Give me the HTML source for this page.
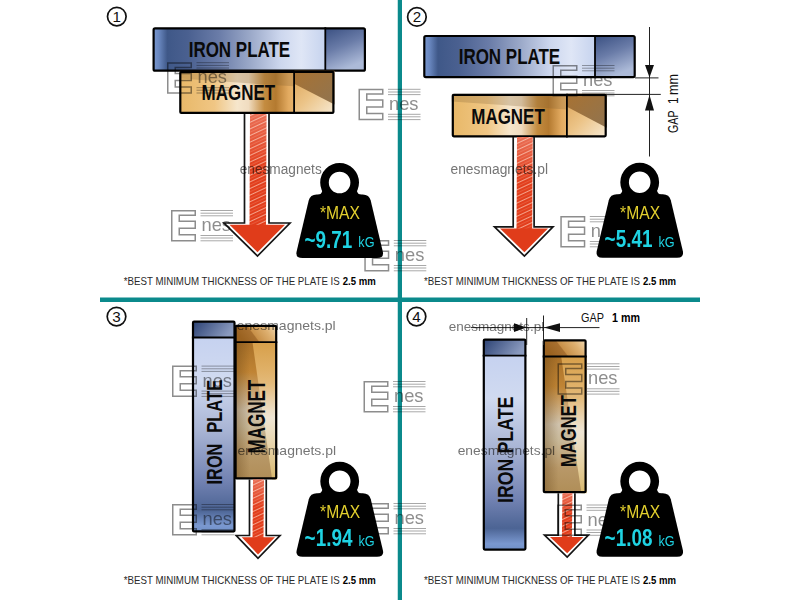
<!DOCTYPE html><html><head><meta charset="utf-8"><style>html,body{margin:0;padding:0;background:#fff;overflow:hidden;}svg{display:block;font-family:"Liberation Sans",sans-serif;}</style></head><body><svg width="800" height="600" viewBox="0 0 800 600" font-family="Liberation Sans, sans-serif">
<defs>
 <linearGradient id="hfade" x1="0" y1="0" x2="0" y2="1">
  <stop offset="0" stop-color="#fff" stop-opacity="0.25"/>
  <stop offset="1" stop-color="#fff" stop-opacity="0"/>
 </linearGradient>
 <pattern id="hatch" patternUnits="userSpaceOnUse" width="6" height="6" patternTransform="rotate(-25)">
  <rect width="6" height="6" fill="#e23e1c"/>
  <rect y="0" width="6" height="1.0" fill="#f4a088"/>
  <rect y="3.2" width="6" height="0.5" fill="#ec7458"/>
 </pattern>
 <linearGradient id="ipH" x1="0" y1="0" x2="1" y2="0">
  <stop offset="0" stop-color="#7a98d0"/>
  <stop offset="0.03" stop-color="#6a88c0"/>
  <stop offset="0.08" stop-color="#3f5888"/>
  <stop offset="0.2" stop-color="#4a6090"/>
  <stop offset="0.38" stop-color="#6a7ca8"/>
  <stop offset="0.56" stop-color="#9aa8c8"/>
  <stop offset="0.74" stop-color="#cdd7ee"/>
  <stop offset="0.86" stop-color="#dfe6f6"/>
  <stop offset="1" stop-color="#c6d3ee"/>
 </linearGradient>
 <linearGradient id="ipE" x1="0" y1="0" x2="0.4" y2="1">
  <stop offset="0" stop-color="#3a5082"/>
  <stop offset="0.5" stop-color="#6a7ca8"/>
  <stop offset="1" stop-color="#acbad8"/>
 </linearGradient>
 <linearGradient id="mgH" x1="0" y1="0" x2="1" y2="0">
  <stop offset="0" stop-color="#e8b868"/>
  <stop offset="0.3" stop-color="#f0c684"/>
  <stop offset="0.5" stop-color="#f6e6cc"/>
  <stop offset="0.6" stop-color="#f0dcc0"/>
  <stop offset="0.74" stop-color="#c48c40"/>
  <stop offset="0.84" stop-color="#b47a30"/>
  <stop offset="0.95" stop-color="#e2aa60"/>
  <stop offset="1" stop-color="#e8b46c"/>
 </linearGradient>
 <linearGradient id="mgE" x1="0" y1="0" x2="1" y2="1">
  <stop offset="0" stop-color="#dca458"/>
  <stop offset="0.5" stop-color="#ecc488"/>
  <stop offset="1" stop-color="#f6e8d0"/>
 </linearGradient>
 <linearGradient id="mgE2" x1="0" y1="0" x2="1" y2="1">
  <stop offset="0" stop-color="#a87232"/>
  <stop offset="1" stop-color="#907450"/>
 </linearGradient>
 <linearGradient id="ipV" x1="0" y1="0" x2="0" y2="1">
  <stop offset="0" stop-color="#c6d2f0"/>
  <stop offset="0.22" stop-color="#d0daf0"/>
  <stop offset="0.48" stop-color="#a8b4d4"/>
  <stop offset="0.74" stop-color="#7282b2"/>
  <stop offset="0.89" stop-color="#4c6494"/>
  <stop offset="0.97" stop-color="#7a98d0"/>
  <stop offset="1" stop-color="#7090c8"/>
 </linearGradient>
 <linearGradient id="ipVc" x1="0" y1="0" x2="1" y2="0.3">
  <stop offset="0" stop-color="#2c4274"/>
  <stop offset="1" stop-color="#8a9abe"/>
 </linearGradient>
 <linearGradient id="mgV" x1="0" y1="0" x2="0" y2="1">
  <stop offset="0" stop-color="#a87028"/>
  <stop offset="0.22" stop-color="#c08434"/>
  <stop offset="0.5" stop-color="#cfc2ac"/>
  <stop offset="0.62" stop-color="#c8b898"/>
  <stop offset="0.82" stop-color="#b89868"/>
  <stop offset="1" stop-color="#b08e58"/>
 </linearGradient>
 <linearGradient id="mgVl" x1="0" y1="0" x2="0" y2="1">
  <stop offset="0" stop-color="#e0a850"/>
  <stop offset="0.3" stop-color="#e8c080"/>
  <stop offset="0.55" stop-color="#f4ecdc"/>
  <stop offset="0.8" stop-color="#ecd8a8"/>
  <stop offset="1" stop-color="#e0c070"/>
 </linearGradient>
 <linearGradient id="mgVs" x1="0" y1="0" x2="1" y2="0">
  <stop offset="0" stop-color="#5a3a10" stop-opacity="0.35"/>
  <stop offset="0.35" stop-color="#5a3a10" stop-opacity="0"/>
  <stop offset="1" stop-color="#5a3a10" stop-opacity="0"/>
 </linearGradient>
 <linearGradient id="mgVc" x1="0" y1="0.3" x2="1" y2="0">
  <stop offset="0" stop-color="#9a6220"/>
  <stop offset="0.33" stop-color="#a87030"/>
  <stop offset="0.36" stop-color="#c89048"/>
  <stop offset="0.7" stop-color="#deb070"/>
  <stop offset="1" stop-color="#f0d8b0"/>
 </linearGradient>
</defs>
<rect width="800" height="600" fill="#fff"/><rect x="397.75" y="0" width="4.25" height="600" fill="#0b8a8c"/><rect x="100" y="297.5" width="600" height="4.5" fill="#0b8a8c"/><circle cx="116.8" cy="16.6" r="9.3" fill="none" stroke="#111" stroke-width="1.7"/><text x="116.8" y="21.6" font-size="15.2" text-anchor="middle" fill="#111">1</text><rect x="153.6" y="28.3" width="171.70000000000002" height="42.39999999999999" fill="url(#ipH)"/><rect x="325.3" y="28.3" width="39.59999999999999" height="42.39999999999999" fill="url(#ipE)"/><rect x="153.6" y="28.3" width="211.3" height="42.39999999999999" rx="1.5" fill="none" stroke="#000" stroke-width="2.2"/><line x1="325.3" y1="27.2" x2="325.3" y2="71.8" stroke="#000" stroke-width="1.8"/><text x="188.7" y="57" font-size="21.5" font-weight="bold" textLength="101.5" lengthAdjust="spacingAndGlyphs" fill="#0a0a0a">IRON PLATE</text><rect x="180.29999999999998" y="71.89999999999999" width="113.80000000000004" height="41.0" fill="url(#mgH)"/><path d="M179.2,70.8 L294.1,70.8 L294.1,86.352 L179.2,78.576 Z" fill="#7a5a30" opacity="0.25"/><rect x="294.1" y="71.89999999999999" width="39.299999999999976" height="41.0" fill="url(#mgE)"/><path d="M294.1,70.8 L334.5,70.8 L334.5,104.49600000000001 L294.1,83.75999999999999 Z" fill="url(#mgE2)"/><rect x="180.29999999999998" y="71.89999999999999" width="153.10000000000002" height="41.0" rx="1" fill="none" stroke="#000" stroke-width="2.2"/><line x1="294.1" y1="70.8" x2="294.1" y2="114" stroke="#000" stroke-width="1.8"/><text x="201.6" y="100" font-size="21.5" font-weight="bold" textLength="73.5" lengthAdjust="spacingAndGlyphs" fill="#0a0a0a">MAGNET</text><path d="M250.0,114 L266.5,114 L266.0,226 L249.5,226 Z" fill="url(#hatch)"/><rect x="249.5" y="114" width="17.0" height="54.5" fill="url(#hfade)"/><path d="M229.5,224.8 L285,224.8 L257.5,252.2 Z" fill="#e03c1a"/><path d="M244.5,114 L244.5,223 L224,223 L257.5,256 L290,223 L269,223 L269,114" fill="none" stroke="#151515" stroke-width="1.7" stroke-linejoin="miter"/><text x="123.75" y="284.6" font-size="11.2" fill="#2a2a2a"><tspan textLength="216" lengthAdjust="spacingAndGlyphs">*BEST MINIMUM THICKNESS OF THE PLATE IS</tspan><tspan x="342.75" font-weight="bold" fill="#000" textLength="33" lengthAdjust="spacingAndGlyphs">2.5 mm</tspan></text><circle cx="416.9" cy="16.9" r="9.3" fill="none" stroke="#111" stroke-width="1.7"/><text x="416.9" y="21.9" font-size="15.2" text-anchor="middle" fill="#111">2</text><rect x="424.3" y="36.0" width="170.70000000000002" height="41.1" fill="url(#ipH)"/><rect x="595" y="36.0" width="39.69999999999995" height="41.1" fill="url(#ipE)"/><rect x="424.3" y="36.0" width="210.39999999999998" height="41.1" rx="1.5" fill="none" stroke="#000" stroke-width="2.2"/><line x1="595" y1="34.9" x2="595" y2="78.2" stroke="#000" stroke-width="1.8"/><text x="458.7" y="64" font-size="21.5" font-weight="bold" textLength="101.5" lengthAdjust="spacingAndGlyphs" fill="#0a0a0a">IRON PLATE</text><rect x="452.8" y="94.85" width="114.1" height="41.45" fill="url(#mgH)"/><path d="M451.7,93.75 L566.9,93.75 L566.9,109.464 L451.7,101.607 Z" fill="#7a5a30" opacity="0.25"/><rect x="566.9" y="94.85" width="38.799999999999976" height="41.45" fill="url(#mgE)"/><path d="M566.9,93.75 L606.8,93.75 L606.8,127.797 L566.9,106.845 Z" fill="url(#mgE2)"/><rect x="452.8" y="94.85" width="152.89999999999998" height="41.45" rx="1" fill="none" stroke="#000" stroke-width="2.2"/><line x1="566.9" y1="93.75" x2="566.9" y2="137.4" stroke="#000" stroke-width="1.8"/><text x="471.3" y="124.4" font-size="21.5" font-weight="bold" textLength="73.5" lengthAdjust="spacingAndGlyphs" fill="#0a0a0a">MAGNET</text><path d="M517.0,137 L532.7,137 L532.2,229.8 L516.5,229.8 Z" fill="url(#hatch)"/><rect x="516.5" y="137" width="16.200000000000045" height="44.900000000000006" fill="url(#hfade)"/><path d="M500.0,228.60000000000002 L548,228.60000000000002 L524.4,252.3 Z" fill="#e03c1a"/><path d="M513.2,137 L513.2,226.8 L494.5,226.8 L524.4,256.1 L553,226.8 L534.1,226.8 L534.1,137" fill="none" stroke="#151515" stroke-width="1.7" stroke-linejoin="miter"/><text x="424" y="284.6" font-size="11.2" fill="#2a2a2a"><tspan textLength="216" lengthAdjust="spacingAndGlyphs">*BEST MINIMUM THICKNESS OF THE PLATE IS</tspan><tspan x="643" font-weight="bold" fill="#000" textLength="33" lengthAdjust="spacingAndGlyphs">2.5 mm</tspan></text><line x1="649.5" y1="27" x2="649.5" y2="156.5" stroke="#222" stroke-width="1"/><line x1="635" y1="77.9" x2="658.5" y2="77.9" stroke="#222" stroke-width="1"/><line x1="606" y1="94.4" x2="660.8" y2="94.4" stroke="#222" stroke-width="1"/><path d="M645,65 L654,65 L649.5,77.4 Z" fill="#111"/><path d="M645,110.5 L654,110.5 L649.5,94.9 Z" fill="#111"/><text transform="translate(677.8,133) rotate(-90)" font-size="13.8" fill="#111" textLength="22.5" lengthAdjust="spacingAndGlyphs">GAP</text><text transform="translate(677.8,104) rotate(-90)" font-size="13.8" fill="#111" textLength="6.5" lengthAdjust="spacingAndGlyphs">1</text><text transform="translate(677.8,95) rotate(-90)" font-size="13.8" fill="#111" textLength="21" lengthAdjust="spacingAndGlyphs">mm</text><circle cx="116.5" cy="316.6" r="9.3" fill="none" stroke="#111" stroke-width="1.7"/><text x="116.5" y="321.6" font-size="15.2" text-anchor="middle" fill="#111">3</text><rect x="193.0" y="337.5" width="41.499999999999986" height="193.9" fill="url(#ipV)"/><rect x="193.0" y="321.70000000000005" width="41.499999999999986" height="15.799999999999978" fill="url(#ipVc)"/><rect x="193.0" y="321.70000000000005" width="41.499999999999986" height="209.7" rx="1" fill="none" stroke="#000" stroke-width="2.2"/><line x1="191.9" y1="337.5" x2="235.6" y2="337.5" stroke="#000" stroke-width="1.8"/><text transform="translate(221.8,484.4) rotate(-90)" x="0" y="0" font-size="22.7" font-weight="bold" textLength="40.69999999999999" lengthAdjust="spacingAndGlyphs" fill="#0a0a0a">IRON</text><text transform="translate(221.8,432.8) rotate(-90)" x="0" y="0" font-size="22.7" font-weight="bold" textLength="53.05000000000001" lengthAdjust="spacingAndGlyphs" fill="#0a0a0a">PLATE</text><rect x="235.6" y="342.1" width="40.60000000000001" height="136.29999999999998" fill="url(#mgV)"/><path d="M252.476,342.1 L277.3,342.1 L277.3,479.5 L272.164,479.5 Z" fill="url(#mgVl)" opacity="0.85"/><rect x="235.6" y="342.1" width="40.60000000000001" height="136.29999999999998" fill="url(#mgVs)"/><rect x="235.6" y="325.8" width="40.60000000000001" height="16.300000000000033" fill="url(#mgVc)"/><rect x="235.6" y="325.8" width="40.60000000000001" height="152.60000000000002" rx="1" fill="none" stroke="#000" stroke-width="2.2"/><line x1="234.5" y1="342.1" x2="277.3" y2="342.1" stroke="#000" stroke-width="1.8"/><text transform="translate(264.8,453.4) rotate(-90)" x="0" y="0" font-size="23.5" font-weight="bold" textLength="73.64999999999998" lengthAdjust="spacingAndGlyphs" fill="#0a0a0a">MAGNET</text><path d="M253.0,479.5 L264,479.5 L263.5,538.5 L252.5,538.5 Z" fill="url(#hatch)"/><rect x="252.5" y="479.5" width="11.5" height="28.0" fill="url(#hfade)"/><path d="M241.75,537.3 L275,537.3 L258,554.45 Z" fill="#e03c1a"/><path d="M249.5,479.5 L249.5,535.5 L236.25,535.5 L258,558.25 L280,535.5 L266.25,535.5 L266.25,479.5" fill="none" stroke="#151515" stroke-width="1.7" stroke-linejoin="miter"/><text x="123.75" y="584.3" font-size="11.2" fill="#2a2a2a"><tspan textLength="216" lengthAdjust="spacingAndGlyphs">*BEST MINIMUM THICKNESS OF THE PLATE IS</tspan><tspan x="342.75" font-weight="bold" fill="#000" textLength="33" lengthAdjust="spacingAndGlyphs">2.5 mm</tspan></text><circle cx="416.5" cy="316.6" r="9.3" fill="none" stroke="#111" stroke-width="1.7"/><text x="416.5" y="321.6" font-size="15.2" text-anchor="middle" fill="#111">4</text><rect x="483.8" y="355.7" width="41.60000000000001" height="193.90000000000006" fill="url(#ipV)"/><rect x="483.8" y="339.6" width="41.60000000000001" height="16.099999999999987" fill="url(#ipVc)"/><rect x="483.8" y="339.6" width="41.60000000000001" height="210.00000000000006" rx="1" fill="none" stroke="#000" stroke-width="2.2"/><line x1="482.7" y1="355.7" x2="526.5" y2="355.7" stroke="#000" stroke-width="1.8"/><text transform="translate(512.8,503) rotate(-90)" x="0" y="0" font-size="22" font-weight="bold" textLength="44.30000000000001" lengthAdjust="spacingAndGlyphs" fill="#0a0a0a">IRON</text><text transform="translate(512.8,453.5) rotate(-90)" x="0" y="0" font-size="22" font-weight="bold" textLength="56.89999999999998" lengthAdjust="spacingAndGlyphs" fill="#0a0a0a">PLATE</text><rect x="543.8000000000001" y="356.5" width="41.8" height="135.70000000000002" fill="url(#mgV)"/><path d="M561.1800000000001,356.5 L586.7,356.5 L586.7,493.3 L581.4200000000001,493.3 Z" fill="url(#mgVl)" opacity="0.85"/><rect x="543.8000000000001" y="356.5" width="41.8" height="135.70000000000002" fill="url(#mgVs)"/><rect x="543.8000000000001" y="340.3" width="41.8" height="16.20000000000001" fill="url(#mgVc)"/><rect x="543.8000000000001" y="340.3" width="41.8" height="151.90000000000003" rx="1" fill="none" stroke="#000" stroke-width="2.2"/><line x1="542.7" y1="356.5" x2="586.7" y2="356.5" stroke="#000" stroke-width="1.8"/><text transform="translate(576.3,467) rotate(-90)" x="0" y="0" font-size="21.5" font-weight="bold" textLength="72" lengthAdjust="spacingAndGlyphs" fill="#0a0a0a">MAGNET</text><path d="M562.4,493.3 L572.4,493.3 L571.9,538.2 L561.9,538.2 Z" fill="url(#hatch)"/><rect x="561.9" y="493.3" width="10.5" height="20.950000000000017" fill="url(#hfade)"/><path d="M550.0,537.0 L583.4,537.0 L567.2,553.2 Z" fill="#e03c1a"/><path d="M558.3,493.3 L558.3,535.2 L544.5,535.2 L567.2,557 L588.4,535.2 L574.9,535.2 L574.9,493.3" fill="none" stroke="#151515" stroke-width="1.7" stroke-linejoin="miter"/><text x="424" y="584.3" font-size="11.2" fill="#2a2a2a"><tspan textLength="216" lengthAdjust="spacingAndGlyphs">*BEST MINIMUM THICKNESS OF THE PLATE IS</tspan><tspan x="643" font-weight="bold" fill="#000" textLength="33" lengthAdjust="spacingAndGlyphs">2.5 mm</tspan></text><line x1="526.7" y1="318" x2="526.7" y2="345" stroke="#222" stroke-width="1"/><line x1="543.5" y1="315.5" x2="543.5" y2="345" stroke="#222" stroke-width="1"/><line x1="471" y1="327.6" x2="599.5" y2="327.6" stroke="#222" stroke-width="1"/><path d="M514,323.3 L514,331.9 L526.5,327.6 Z" fill="#111"/><path d="M560,323.3 L560,331.9 L544,327.6 Z" fill="#111"/><text x="581" y="322" font-size="13.2" fill="#111" textLength="23" lengthAdjust="spacingAndGlyphs">GAP</text><text x="612" y="322" font-size="13.2" font-weight="bold" fill="#000" textLength="28" lengthAdjust="spacingAndGlyphs">1 mm</text><g style="mix-blend-mode:multiply"><g transform="translate(167,62.2)" opacity="0.85"><path d="M0.75,0.75 H24.25 V5.25 H8.25 V11.25 H24.25 V18.25 H8.25 V24.75 H24.25 V30.75 H0.75 Z" fill="none" stroke="#7a7a7a" stroke-width="1.5"/><line x1="29.5" y1="0.5" x2="62" y2="0.5" stroke="#999" stroke-width="1"/><line x1="29.5" y1="3.2" x2="62" y2="3.2" stroke="#999" stroke-width="1"/><line x1="29.5" y1="5.8" x2="62" y2="5.8" stroke="#999" stroke-width="1"/><line x1="29.5" y1="25.5" x2="62" y2="25.5" stroke="#999" stroke-width="1"/><line x1="29.5" y1="28.0" x2="62" y2="28.0" stroke="#999" stroke-width="1"/><line x1="29.5" y1="30.8" x2="62" y2="30.8" stroke="#999" stroke-width="1"/><text x="30.5" y="21.1" font-size="19" textLength="29.5" lengthAdjust="spacingAndGlyphs" fill="#7a7a7a">nes</text></g><g transform="translate(358.5,88.8)" opacity="0.85"><path d="M0.75,0.75 H24.25 V5.25 H8.25 V11.25 H24.25 V18.25 H8.25 V24.75 H24.25 V30.75 H0.75 Z" fill="none" stroke="#7a7a7a" stroke-width="1.5"/><line x1="29.5" y1="0.5" x2="62" y2="0.5" stroke="#999" stroke-width="1"/><line x1="29.5" y1="3.2" x2="62" y2="3.2" stroke="#999" stroke-width="1"/><line x1="29.5" y1="5.8" x2="62" y2="5.8" stroke="#999" stroke-width="1"/><line x1="29.5" y1="25.5" x2="62" y2="25.5" stroke="#999" stroke-width="1"/><line x1="29.5" y1="28.0" x2="62" y2="28.0" stroke="#999" stroke-width="1"/><line x1="29.5" y1="30.8" x2="62" y2="30.8" stroke="#999" stroke-width="1"/><text x="30.5" y="21.1" font-size="19" textLength="29.5" lengthAdjust="spacingAndGlyphs" fill="#7a7a7a">nes</text></g><g transform="translate(171,210)" opacity="0.85"><path d="M0.75,0.75 H24.25 V5.25 H8.25 V11.25 H24.25 V18.25 H8.25 V24.75 H24.25 V30.75 H0.75 Z" fill="none" stroke="#7a7a7a" stroke-width="1.5"/><line x1="29.5" y1="0.5" x2="62" y2="0.5" stroke="#999" stroke-width="1"/><line x1="29.5" y1="3.2" x2="62" y2="3.2" stroke="#999" stroke-width="1"/><line x1="29.5" y1="5.8" x2="62" y2="5.8" stroke="#999" stroke-width="1"/><line x1="29.5" y1="25.5" x2="62" y2="25.5" stroke="#999" stroke-width="1"/><line x1="29.5" y1="28.0" x2="62" y2="28.0" stroke="#999" stroke-width="1"/><line x1="29.5" y1="30.8" x2="62" y2="30.8" stroke="#999" stroke-width="1"/><text x="30.5" y="21.1" font-size="19" textLength="29.5" lengthAdjust="spacingAndGlyphs" fill="#7a7a7a">nes</text></g><g transform="translate(364.3,240)" opacity="0.85"><path d="M0.75,0.75 H24.25 V5.25 H8.25 V11.25 H24.25 V18.25 H8.25 V24.75 H24.25 V30.75 H0.75 Z" fill="none" stroke="#7a7a7a" stroke-width="1.5"/><line x1="29.5" y1="0.5" x2="62" y2="0.5" stroke="#999" stroke-width="1"/><line x1="29.5" y1="3.2" x2="62" y2="3.2" stroke="#999" stroke-width="1"/><line x1="29.5" y1="5.8" x2="62" y2="5.8" stroke="#999" stroke-width="1"/><line x1="29.5" y1="25.5" x2="62" y2="25.5" stroke="#999" stroke-width="1"/><line x1="29.5" y1="28.0" x2="62" y2="28.0" stroke="#999" stroke-width="1"/><line x1="29.5" y1="30.8" x2="62" y2="30.8" stroke="#999" stroke-width="1"/><text x="30.5" y="21.1" font-size="19" textLength="29.5" lengthAdjust="spacingAndGlyphs" fill="#7a7a7a">nes</text></g><g transform="translate(552.5,65)" opacity="0.85"><path d="M0.75,0.75 H24.25 V5.25 H8.25 V11.25 H24.25 V18.25 H8.25 V24.75 H24.25 V30.75 H0.75 Z" fill="none" stroke="#7a7a7a" stroke-width="1.5"/><line x1="29.5" y1="0.5" x2="62" y2="0.5" stroke="#999" stroke-width="1"/><line x1="29.5" y1="3.2" x2="62" y2="3.2" stroke="#999" stroke-width="1"/><line x1="29.5" y1="5.8" x2="62" y2="5.8" stroke="#999" stroke-width="1"/><line x1="29.5" y1="25.5" x2="62" y2="25.5" stroke="#999" stroke-width="1"/><line x1="29.5" y1="28.0" x2="62" y2="28.0" stroke="#999" stroke-width="1"/><line x1="29.5" y1="30.8" x2="62" y2="30.8" stroke="#999" stroke-width="1"/><text x="30.5" y="21.1" font-size="19" textLength="29.5" lengthAdjust="spacingAndGlyphs" fill="#7a7a7a">nes</text></g><g transform="translate(560.3,216)" opacity="0.85"><path d="M0.75,0.75 H24.25 V5.25 H8.25 V11.25 H24.25 V18.25 H8.25 V24.75 H24.25 V30.75 H0.75 Z" fill="none" stroke="#7a7a7a" stroke-width="1.5"/><line x1="29.5" y1="0.5" x2="62" y2="0.5" stroke="#999" stroke-width="1"/><line x1="29.5" y1="3.2" x2="62" y2="3.2" stroke="#999" stroke-width="1"/><line x1="29.5" y1="5.8" x2="62" y2="5.8" stroke="#999" stroke-width="1"/><line x1="29.5" y1="25.5" x2="62" y2="25.5" stroke="#999" stroke-width="1"/><line x1="29.5" y1="28.0" x2="62" y2="28.0" stroke="#999" stroke-width="1"/><line x1="29.5" y1="30.8" x2="62" y2="30.8" stroke="#999" stroke-width="1"/><text x="30.5" y="21.1" font-size="19" textLength="29.5" lengthAdjust="spacingAndGlyphs" fill="#7a7a7a">nes</text></g><text x="239.75" y="174" font-size="14" textLength="82" lengthAdjust="spacingAndGlyphs" fill="#666" opacity="0.9">enesmagnets</text><text x="450.5" y="174" font-size="14" textLength="97.5" lengthAdjust="spacingAndGlyphs" fill="#666" opacity="0.9">enesmagnets.pl</text><g transform="translate(172,365.6)" opacity="0.85"><path d="M0.75,0.75 H24.25 V5.25 H8.25 V11.25 H24.25 V18.25 H8.25 V24.75 H24.25 V30.75 H0.75 Z" fill="none" stroke="#7a7a7a" stroke-width="1.5"/><line x1="29.5" y1="0.5" x2="62" y2="0.5" stroke="#999" stroke-width="1"/><line x1="29.5" y1="3.2" x2="62" y2="3.2" stroke="#999" stroke-width="1"/><line x1="29.5" y1="5.8" x2="62" y2="5.8" stroke="#999" stroke-width="1"/><line x1="29.5" y1="25.5" x2="62" y2="25.5" stroke="#999" stroke-width="1"/><line x1="29.5" y1="28.0" x2="62" y2="28.0" stroke="#999" stroke-width="1"/><line x1="29.5" y1="30.8" x2="62" y2="30.8" stroke="#999" stroke-width="1"/><text x="30.5" y="21.1" font-size="19" textLength="29.5" lengthAdjust="spacingAndGlyphs" fill="#7a7a7a">nes</text></g><g transform="translate(363.5,381)" opacity="0.85"><path d="M0.75,0.75 H24.25 V5.25 H8.25 V11.25 H24.25 V18.25 H8.25 V24.75 H24.25 V30.75 H0.75 Z" fill="none" stroke="#7a7a7a" stroke-width="1.5"/><line x1="29.5" y1="0.5" x2="62" y2="0.5" stroke="#999" stroke-width="1"/><line x1="29.5" y1="3.2" x2="62" y2="3.2" stroke="#999" stroke-width="1"/><line x1="29.5" y1="5.8" x2="62" y2="5.8" stroke="#999" stroke-width="1"/><line x1="29.5" y1="25.5" x2="62" y2="25.5" stroke="#999" stroke-width="1"/><line x1="29.5" y1="28.0" x2="62" y2="28.0" stroke="#999" stroke-width="1"/><line x1="29.5" y1="30.8" x2="62" y2="30.8" stroke="#999" stroke-width="1"/><text x="30.5" y="21.1" font-size="19" textLength="29.5" lengthAdjust="spacingAndGlyphs" fill="#7a7a7a">nes</text></g><g transform="translate(172,504)" opacity="0.85"><path d="M0.75,0.75 H24.25 V5.25 H8.25 V11.25 H24.25 V18.25 H8.25 V24.75 H24.25 V30.75 H0.75 Z" fill="none" stroke="#7a7a7a" stroke-width="1.5"/><line x1="29.5" y1="0.5" x2="62" y2="0.5" stroke="#999" stroke-width="1"/><line x1="29.5" y1="3.2" x2="62" y2="3.2" stroke="#999" stroke-width="1"/><line x1="29.5" y1="5.8" x2="62" y2="5.8" stroke="#999" stroke-width="1"/><line x1="29.5" y1="25.5" x2="62" y2="25.5" stroke="#999" stroke-width="1"/><line x1="29.5" y1="28.0" x2="62" y2="28.0" stroke="#999" stroke-width="1"/><line x1="29.5" y1="30.8" x2="62" y2="30.8" stroke="#999" stroke-width="1"/><text x="30.5" y="21.1" font-size="19" textLength="29.5" lengthAdjust="spacingAndGlyphs" fill="#7a7a7a">nes</text></g><g transform="translate(364,503)" opacity="0.85"><path d="M0.75,0.75 H24.25 V5.25 H8.25 V11.25 H24.25 V18.25 H8.25 V24.75 H24.25 V30.75 H0.75 Z" fill="none" stroke="#7a7a7a" stroke-width="1.5"/><line x1="29.5" y1="0.5" x2="62" y2="0.5" stroke="#999" stroke-width="1"/><line x1="29.5" y1="3.2" x2="62" y2="3.2" stroke="#999" stroke-width="1"/><line x1="29.5" y1="5.8" x2="62" y2="5.8" stroke="#999" stroke-width="1"/><line x1="29.5" y1="25.5" x2="62" y2="25.5" stroke="#999" stroke-width="1"/><line x1="29.5" y1="28.0" x2="62" y2="28.0" stroke="#999" stroke-width="1"/><line x1="29.5" y1="30.8" x2="62" y2="30.8" stroke="#999" stroke-width="1"/><text x="30.5" y="21.1" font-size="19" textLength="29.5" lengthAdjust="spacingAndGlyphs" fill="#7a7a7a">nes</text></g><g transform="translate(557.5,363.3)" opacity="0.85"><path d="M0.75,0.75 H24.25 V5.25 H8.25 V11.25 H24.25 V18.25 H8.25 V24.75 H24.25 V30.75 H0.75 Z" fill="none" stroke="#7a7a7a" stroke-width="1.5"/><line x1="29.5" y1="0.5" x2="62" y2="0.5" stroke="#999" stroke-width="1"/><line x1="29.5" y1="3.2" x2="62" y2="3.2" stroke="#999" stroke-width="1"/><line x1="29.5" y1="5.8" x2="62" y2="5.8" stroke="#999" stroke-width="1"/><line x1="29.5" y1="25.5" x2="62" y2="25.5" stroke="#999" stroke-width="1"/><line x1="29.5" y1="28.0" x2="62" y2="28.0" stroke="#999" stroke-width="1"/><line x1="29.5" y1="30.8" x2="62" y2="30.8" stroke="#999" stroke-width="1"/><text x="30.5" y="21.1" font-size="19" textLength="29.5" lengthAdjust="spacingAndGlyphs" fill="#7a7a7a">nes</text></g><g transform="translate(557,504.5)" opacity="0.85"><path d="M0.75,0.75 H24.25 V5.25 H8.25 V11.25 H24.25 V18.25 H8.25 V24.75 H24.25 V30.75 H0.75 Z" fill="none" stroke="#7a7a7a" stroke-width="1.5"/><line x1="29.5" y1="0.5" x2="62" y2="0.5" stroke="#999" stroke-width="1"/><line x1="29.5" y1="3.2" x2="62" y2="3.2" stroke="#999" stroke-width="1"/><line x1="29.5" y1="5.8" x2="62" y2="5.8" stroke="#999" stroke-width="1"/><line x1="29.5" y1="25.5" x2="62" y2="25.5" stroke="#999" stroke-width="1"/><line x1="29.5" y1="28.0" x2="62" y2="28.0" stroke="#999" stroke-width="1"/><line x1="29.5" y1="30.8" x2="62" y2="30.8" stroke="#999" stroke-width="1"/><text x="30.5" y="21.1" font-size="19" textLength="29.5" lengthAdjust="spacingAndGlyphs" fill="#7a7a7a">nes</text></g><text x="236.75" y="330.3" font-size="12.8" textLength="99" lengthAdjust="spacingAndGlyphs" fill="#666" opacity="0.9">enesmagnets.pl</text><text x="237.5" y="455.2" font-size="12.8" textLength="98.5" lengthAdjust="spacingAndGlyphs" fill="#666" opacity="0.9">enesmagnets.pl</text><text x="448.7" y="330.8" font-size="12.5" textLength="95.5" lengthAdjust="spacingAndGlyphs" fill="#666" opacity="0.9">enesmagnets.pl</text><text x="457.7" y="455.2" font-size="12.8" textLength="97.5" lengthAdjust="spacingAndGlyphs" fill="#666" opacity="0.9">enesmagnets.pl</text></g><g><path fill-rule="evenodd" d="M320.2,182.50000000000003 a19.4,19.4 0 1,0 38.8,0 a19.4,19.4 0 1,0 -38.8,0 Z M328.79999999999995,182.50000000000003 a10.8,10.8 0 1,0 21.6,0 a10.8,10.8 0 1,0 -21.6,0 Z" fill="#000"/><path d="M316.7,194.50000000000003 L362.7,194.50000000000003 Q369.2,194.50000000000003 370.7,200.50000000000003 L382.9,252.10000000000002 Q383.9,258.1 376.9,258.1 L302.5,258.1 Q295.5,258.1 296.5,252.10000000000002 L308.7,200.50000000000003 Q310.2,194.50000000000003 316.7,194.50000000000003 Z" fill="#000"/><path d="M317.59999999999997,195.00000000000003 Q321.59999999999997,194.50000000000003 322.4,190.50000000000003 L327.59999999999997,195.50000000000003 Z" fill="#000"/><path d="M361.59999999999997,195.00000000000003 Q357.59999999999997,194.50000000000003 356.79999999999995,190.50000000000003 L351.59999999999997,195.50000000000003 Z" fill="#000"/><text x="320.0" y="218.8" font-size="17.5" textLength="40" lengthAdjust="spacingAndGlyphs" fill="#e2cf2e">*MAX</text><text x="304.5" y="247.50000000000003" font-size="24" font-weight="bold" textLength="47.8" lengthAdjust="spacingAndGlyphs" fill="#1fd3e3">~9.71</text><text x="358.3" y="247.20000000000002" font-size="15.5" textLength="16.2" lengthAdjust="spacingAndGlyphs" fill="#1fd3e3">kG</text></g><g><path fill-rule="evenodd" d="M620.3,182.20000000000002 a19.4,19.4 0 1,0 38.8,0 a19.4,19.4 0 1,0 -38.8,0 Z M628.9,182.20000000000002 a10.8,10.8 0 1,0 21.6,0 a10.8,10.8 0 1,0 -21.6,0 Z" fill="#000"/><path d="M616.8,194.20000000000002 L662.8,194.20000000000002 Q669.3,194.20000000000002 670.8,200.20000000000002 L683.0,251.8 Q684.0,257.8 677.0,257.8 L602.5999999999999,257.8 Q595.5999999999999,257.8 596.5999999999999,251.8 L608.8,200.20000000000002 Q610.3,194.20000000000002 616.8,194.20000000000002 Z" fill="#000"/><path d="M617.6999999999999,194.70000000000002 Q621.6999999999999,194.20000000000002 622.4999999999999,190.20000000000002 L627.6999999999999,195.20000000000002 Z" fill="#000"/><path d="M661.6999999999999,194.70000000000002 Q657.6999999999999,194.20000000000002 656.9,190.20000000000002 L651.6999999999999,195.20000000000002 Z" fill="#000"/><text x="620.0999999999999" y="218.5" font-size="17.5" textLength="40" lengthAdjust="spacingAndGlyphs" fill="#e2cf2e">*MAX</text><text x="604.5999999999999" y="247.20000000000002" font-size="24" font-weight="bold" textLength="47.8" lengthAdjust="spacingAndGlyphs" fill="#1fd3e3">~5.41</text><text x="658.4" y="246.9" font-size="15.5" textLength="16.2" lengthAdjust="spacingAndGlyphs" fill="#1fd3e3">kG</text></g><g><path fill-rule="evenodd" d="M320.3,481.19999999999993 a19.4,19.4 0 1,0 38.8,0 a19.4,19.4 0 1,0 -38.8,0 Z M328.9,481.19999999999993 a10.8,10.8 0 1,0 21.6,0 a10.8,10.8 0 1,0 -21.6,0 Z" fill="#000"/><path d="M316.8,493.19999999999993 L362.8,493.19999999999993 Q369.3,493.19999999999993 370.8,499.19999999999993 L383.0,550.8 Q384.0,556.8 377.0,556.8 L302.6,556.8 Q295.6,556.8 296.6,550.8 L308.8,499.19999999999993 Q310.3,493.19999999999993 316.8,493.19999999999993 Z" fill="#000"/><path d="M317.7,493.69999999999993 Q321.7,493.19999999999993 322.5,489.19999999999993 L327.7,494.19999999999993 Z" fill="#000"/><path d="M361.7,493.69999999999993 Q357.7,493.19999999999993 356.9,489.19999999999993 L351.7,494.19999999999993 Z" fill="#000"/><text x="320.1" y="517.5" font-size="17.5" textLength="40" lengthAdjust="spacingAndGlyphs" fill="#e2cf2e">*MAX</text><text x="304.6" y="546.1999999999999" font-size="24" font-weight="bold" textLength="47.8" lengthAdjust="spacingAndGlyphs" fill="#1fd3e3">~1.94</text><text x="358.40000000000003" y="545.9" font-size="15.5" textLength="16.2" lengthAdjust="spacingAndGlyphs" fill="#1fd3e3">kG</text></g><g><path fill-rule="evenodd" d="M620.3,481.19999999999993 a19.4,19.4 0 1,0 38.8,0 a19.4,19.4 0 1,0 -38.8,0 Z M628.9,481.19999999999993 a10.8,10.8 0 1,0 21.6,0 a10.8,10.8 0 1,0 -21.6,0 Z" fill="#000"/><path d="M616.8,493.19999999999993 L662.8,493.19999999999993 Q669.3,493.19999999999993 670.8,499.19999999999993 L683.0,550.8 Q684.0,556.8 677.0,556.8 L602.5999999999999,556.8 Q595.5999999999999,556.8 596.5999999999999,550.8 L608.8,499.19999999999993 Q610.3,493.19999999999993 616.8,493.19999999999993 Z" fill="#000"/><path d="M617.6999999999999,493.69999999999993 Q621.6999999999999,493.19999999999993 622.4999999999999,489.19999999999993 L627.6999999999999,494.19999999999993 Z" fill="#000"/><path d="M661.6999999999999,493.69999999999993 Q657.6999999999999,493.19999999999993 656.9,489.19999999999993 L651.6999999999999,494.19999999999993 Z" fill="#000"/><text x="620.0999999999999" y="517.5" font-size="17.5" textLength="40" lengthAdjust="spacingAndGlyphs" fill="#e2cf2e">*MAX</text><text x="604.5999999999999" y="546.1999999999999" font-size="24" font-weight="bold" textLength="47.8" lengthAdjust="spacingAndGlyphs" fill="#1fd3e3">~1.08</text><text x="658.4" y="545.9" font-size="15.5" textLength="16.2" lengthAdjust="spacingAndGlyphs" fill="#1fd3e3">kG</text></g></svg></body></html>
